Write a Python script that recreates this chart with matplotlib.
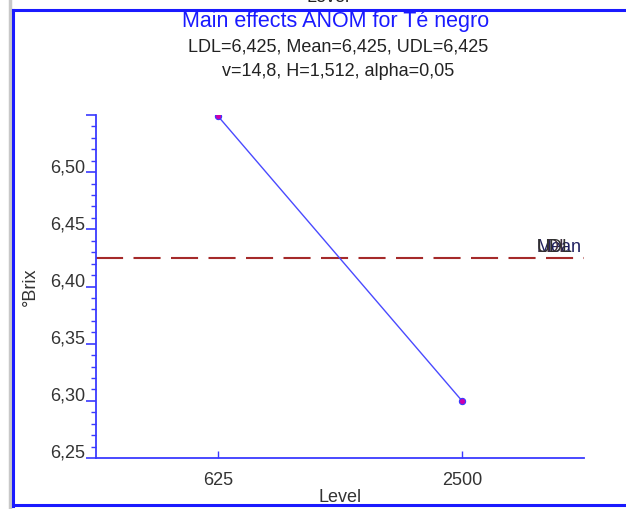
import matplotlib
matplotlib.use("Agg")
import matplotlib.pyplot as plt
from matplotlib.lines import Line2D
from matplotlib.ticker import MultipleLocator, FuncFormatter

levels = ["625", "2500"]
means = [6.549, 6.300]
grand_mean = 6.425
ldl = 6.425
udl = 6.425

plt.rcParams['font.family'] = ['Liberation Sans', 'DejaVu Sans']

W, H = 626, 509
fig = plt.figure(figsize=(W / 100, H / 100), dpi=100)

def fx(px):
    return px / W

def fy(py):
    return 1 - py / H

# window frame
fig.add_artist(Line2D([fx(10), fx(10)], [fy(0), fy(509)], color="#c8c8c8", lw=2.5))
fig.add_artist(Line2D([fx(13), fx(13)], [fy(10), fy(506)], color="#1a1aff", lw=2.2))
fig.add_artist(Line2D([fx(13), fx(626)], [fy(10), fy(10)], color="#1a1aff", lw=2.2))
fig.add_artist(Line2D([fx(13), fx(626)], [fy(505), fy(505)], color="#1a1aff", lw=2.2))

# clipped text at very top
fig.text(fx(328), fy(2.5), "Level", ha="center", va="baseline", fontsize=13, color="#222222")

fig.text(fx(336), fy(22), "Main effects ANOM for Té negro", ha="center", va="center",
         fontsize=15.5, color="#1a1aff")
fig.text(fx(338), fy(47), "LDL=6,425, Mean=6,425, UDL=6,425", ha="center", va="center",
         fontsize=13, color="#222222")
fig.text(fx(338), fy(72), "v=14,8, H=1,512, alpha=0,05", ha="center", va="center",
         fontsize=13, color="#222222")

ax = fig.add_axes([fx(96), fy(458), fx(584) - fx(96), (458 - 115) / H])
x = list(range(1, len(levels) + 1))
ax.plot(x, means, color="#4a4aff", lw=1.0, marker="o", markersize=4.5,
        markerfacecolor="#cc00aa", markeredgecolor="#3a3aff", markeredgewidth=0.8, zorder=3)
ax.axhline(grand_mean, color="#a52a2a", lw=1.5, dashes=(13, 5))

ax.set_xlim(0.5, 2.5)
ax.set_ylim(6.25, 6.55)
ax.set_xticks(x)
ax.set_xticklabels(levels)
ax.yaxis.set_major_locator(MultipleLocator(0.05))
ax.yaxis.set_minor_locator(MultipleLocator(0.01))
ax.yaxis.set_major_formatter(FuncFormatter(
    lambda v, p: "" if v > 6.52 else f"{v:.2f}".replace(".", ",")))

for s in ["top", "right"]:
    ax.spines[s].set_visible(False)
for s in ["left", "bottom"]:
    ax.spines[s].set_color("#3a3aff")
    ax.spines[s].set_linewidth(1.3)

ax.tick_params(axis="y", which="major", direction="out", length=7, width=1.2, color="#3a3aff",
               labelsize=13, labelcolor="#333333", pad=1)
ax.tick_params(axis="y", which="minor", direction="out", length=3.5, width=1.0, color="#3a3aff")
ax.tick_params(axis="x", which="major", direction="in", length=5, width=1.0, color="#3a3aff",
               labelsize=13, labelcolor="#333333", pad=10)
for lab in ax.get_yticklabels():
    lab.set_va("baseline")

ax.set_ylabel("°Brix", fontsize=13, color="#333333", va="center")
ax.yaxis.set_label_coords(-0.135, 0.5)
ax.set_xlabel("Level", fontsize=13, color="#333333", va="center")
ax.xaxis.set_label_coords(0.5, -0.114)

for lab, col in [("Mean", "#202060"), ("LDL", "#403040"), ("UDL", "#303030")]:
    ax.text(2.307, grand_mean + 0.0015, lab, fontsize=13, color=col, ha="left", va="bottom")

fig.savefig("out.png", dpi=100)
